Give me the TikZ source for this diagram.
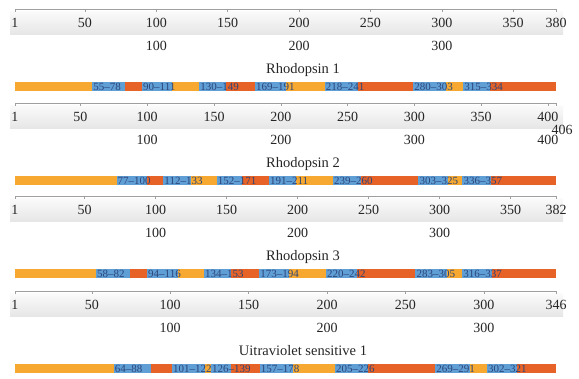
\documentclass[tikz,border=0pt]{standalone}
\usepackage{fontspec}
\setmainfont{Liberation Serif}
\definecolor{loopout}{RGB}{246,168,48}
\definecolor{loopin}{RGB}{231,98,38}
\definecolor{helix}{RGB}{96,158,214}
\definecolor{helixtxt}{RGB}{44,70,120}
\tikzset{
  ruler/.style={draw=gray!75, line width=0.6pt},
  band/.style={top color=gray!4, bottom color=gray!20},
  numlabel/.style={anchor=base, inner sep=0pt, font=\fontsize{14}{14}\selectfont, text=black!85},
  titlelabel/.style={anchor=base, inner sep=0pt, font=\fontsize{14.5}{15}\selectfont, text=black!85},
  tmlabel/.style={anchor=west, inner sep=1pt, font=\fontsize{11}{11}\selectfont, text=helixtxt}
}
% residue number -> x position on a 541pt long bar
\newcommand{\xres}[2]{15+(#1-1)/(#2-1)*541}
% #1 shift, #2 length, #3 name, #4 ticks, #5 second row, #6 outer loops, #7 helices
\newcommand{\protpanel}[7]{%
  \begin{scope}[shift={(0,#1)}]
    \shade[band] (10,12) rectangle (563,35);
    \draw[ruler] (15,9) -- (556,9);
    \foreach \t in {#4}
      \draw[ruler] ({\xres{\t}{#2}},9) -- ++(0,3) node[numlabel] (p#1-\t) at ({\xres{\t}{#2}},28) {\t};
    \foreach \t in {#5}
      \node[numlabel] (p#1-row\t) at ({\xres{\t}{#2}},51) {\t};
    \node[titlelabel] (p#1-title) at (303,74) {#3};
    \fill[loopin] (15,82) rectangle (556,91.5);
    \foreach \a/\b in {#6}
      \fill[loopout] ({\xres{\a}{#2}},82) rectangle ({\xres{\b}{#2}},91.5);
    \foreach \a/\b in {#7}
      \fill[helix] ({\xres{\a}{#2}},82) rectangle ({\xres{\b}{#2}},91.5);
    \foreach \a/\b in {#7}
      \node[tmlabel] (p#1-tm\a) at ({\xres{\a}{#2}},87) {\a\textendash\b};
  \end{scope}}
\begin{document}
\begin{tikzpicture}[x=1pt,y=-1pt]
  \useasboundingbox (0,0) rectangle (579,379);
  \protpanel{0}{380}{Rhodopsin 1}{1,50,100,150,200,250,300,350,380}{100,200,300}
    {1/55,111/130,191/218,303/315}
    {55/78,90/111,130/149,169/191,218/241,280/303,315/334}
  \protpanel{94}{406}{Rhodopsin 2}{1,50,100,150,200,250,300,350,400}{100,200,300,400}
    {1/77,133/152,211/239,325/336}
    {77/100,112/133,152/171,191/211,239/260,303/325,336/357}
  % end of the second ruler
  \draw[ruler] (556,103) -- ++(0,3);
  \node[numlabel] (p94-406) at (562,135) {406};
  \protpanel{187}{382}{Rhodopsin 3}{1,50,100,150,200,250,300,350,382}{100,200,300}
    {1/58,116/134,194/220,305/316}
    {58/82,94/116,134/153,173/194,220/242,283/305,316/337}
  \protpanel{282}{346}{Uitraviolet sensitive 1}{1,50,100,150,200,250,300,346}{100,200,300}
    {1/64,122/126,178/205,291/302}
    {64/88,101/122,126/139,157/178,205/226,269/291,302/321}
\end{tikzpicture}
\end{document}
